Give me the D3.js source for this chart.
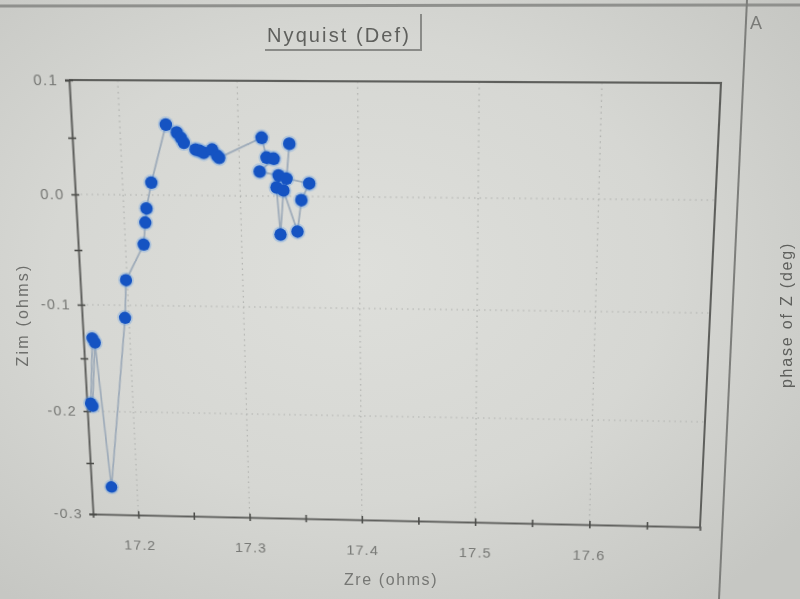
<!DOCTYPE html>
<html><head><meta charset="utf-8">
<script src="https://cdn.jsdelivr.net/npm/d3@7"></script>
<style>
html,body{margin:0;padding:0;width:800px;height:599px;overflow:hidden;}
body{background: radial-gradient(ellipse 70% 70% at 45% 45%, #dedfdb 0%, #d6d7d3 55%, #c6c7c3 100%);}
svg{position:absolute;left:0;top:0;}
#plot{transform-origin:0 0;}
text{font-family:"Liberation Sans", Arial, sans-serif;}
</style></head><body>
<svg id="plot" width="800" height="599"></svg>
<svg id="overlay" width="800" height="599"></svg>
<script>
// ---- data (Nyquist: Zre, Zim in ohms), in measurement order ----
const zre = [17.167, 17.1625, 17.164, 17.169, 17.177, 17.1966, 17.199, 17.2157, 17.218, 17.2195,
             17.2246, 17.239, 17.248, 17.2512, 17.2535, 17.2633, 17.2666, 17.270, 17.2774, 17.2814,
             17.283, 17.3193, 17.323, 17.329, 17.3169, 17.3328, 17.3308, 17.3333, 17.3366, 17.3478,
             17.3516, 17.3585, 17.3394, 17.3424];
const zim = [-0.131, -0.1925, -0.195, -0.135, -0.273, -0.1116, -0.077, -0.0444, -0.0246, -0.012,
             0.011, 0.0619, 0.055, 0.0506, 0.0463, 0.0403, 0.0394, 0.0376, 0.0404, 0.0351,
             0.0333, 0.0511, 0.0338, 0.0329, 0.0215, 0.0182, 0.0077, -0.0341, 0.0051, -0.0313,
             -0.0034, 0.0114, 0.0156, 0.046];
const xDomain = [17.159, 17.696];
const yDomain = [-0.3, 0.1];
const xTicks = [17.2, 17.25, 17.3, 17.35, 17.4, 17.45, 17.5, 17.55, 17.6, 17.65];
const yTicks = [-0.3, -0.25, -0.2, -0.15, -0.1, -0.05, 0.0, 0.05, 0.1];
const xGrid = [17.2, 17.3, 17.4, 17.5, 17.6];
const yGrid = [-0.2, -0.1, 0.0];
const titleText = "Nyquist (Def)";
const xLabel = "Zre (ohms)";
const yLabel = "Zim (ohms)";
const y2Label = "phase of Z (deg)";
const panelLetter = "A";

const points = zre.map((x, i) => ({x, y: zim[i]}));
const isMajor = v => Math.abs(v * 10 - Math.round(v * 10)) < 1e-6;

// ---- logical plot rectangle, then photographed (perspective) onto a quad ----
const L = {x0: 80, y0: 80, x1: 710, y1: 520};
const quad = [[69, 80], [721, 83], [700, 527], [93, 514]]; // TL, TR, BR, BL

function squareToQuad(q) {
  const [[x0,y0],[x1,y1],[x2,y2],[x3,y3]] = q;
  const dx1 = x1 - x2, dx2 = x3 - x2, dx3 = x0 - x1 + x2 - x3;
  const dy1 = y1 - y2, dy2 = y3 - y2, dy3 = y0 - y1 + y2 - y3;
  const den = dx1 * dy2 - dx2 * dy1;
  const g = (dx3 * dy2 - dx2 * dy3) / den;
  const h = (dx1 * dy3 - dx3 * dy1) / den;
  return [[x1 - x0 + g * x1, x3 - x0 + h * x3, x0],
          [y1 - y0 + g * y1, y3 - y0 + h * y3, y0],
          [g, h, 1]];
}
function mul(A, B) {
  return A.map((r, i) => B[0].map((_, j) => r[0]*B[0][j] + r[1]*B[1][j] + r[2]*B[2][j]));
}
const W = L.x1 - L.x0, H = L.y1 - L.y0;
const T = [[1/W, 0, -L.x0/W], [0, 1/H, -L.y0/H], [0, 0, 1]];
const M = mul(squareToQuad(quad), T);
d3.select("#plot").style("transform",
  `matrix3d(${M[0][0]},${M[1][0]},0,${M[2][0]},${M[0][1]},${M[1][1]},0,${M[2][1]},0,0,1,0,${M[0][2]},${M[1][2]},0,${M[2][2]})`);

const x = d3.scaleLinear().domain(xDomain).range([L.x0, L.x1]);
const y = d3.scaleLinear().domain(yDomain).range([L.y1, L.y0]);

const svg = d3.select("#plot");

// grid
svg.append("g").selectAll("line").data(xGrid).join("line")
  .attr("x1", d => x(d)).attr("x2", d => x(d)).attr("y1", L.y0).attr("y2", L.y1)
  .attr("stroke", "#b0b1ae").attr("stroke-width", 1.2).attr("stroke-dasharray", "1.5,4");
svg.append("g").selectAll("line").data(yGrid).join("line")
  .attr("x1", L.x0).attr("x2", L.x1).attr("y1", d => y(d)).attr("y2", d => y(d))
  .attr("stroke", "#b0b1ae").attr("stroke-width", 1.2).attr("stroke-dasharray", "1.5,4");

// frame (top & right)
svg.append("path")
  .attr("d", `M${L.x0},${L.y0}H${L.x1}V${L.y1}`)
  .attr("fill", "none").attr("stroke", "#5e5f5c").attr("stroke-width", 2);

// axes
const xAxis = d3.axisBottom(x).tickValues(xTicks).tickSize(4).tickPadding(23)
  .tickFormat(d => isMajor(d) ? d.toFixed(1) : "");
const yAxis = d3.axisLeft(y).tickValues(yTicks).tickSize(4).tickPadding(7)
  .tickFormat(d => isMajor(d) ? d.toFixed(1) : "");

const gx = svg.append("g").attr("transform", `translate(0,${L.y1})`).call(xAxis);
const gy = svg.append("g").attr("transform", `translate(${L.x0},0)`).call(yAxis);
[gx, gy].forEach(g => {
  g.select(".domain").attr("stroke", "#5e5f5c").attr("stroke-width", 2);
  g.selectAll(".tick line").attr("stroke", "#4a4b48").attr("stroke-width", 1.6);
  g.selectAll(".tick text").attr("fill", "#767774").style("font-size", "15px")
    .style("letter-spacing", "1.2px").attr("font-family", null);
});
gx.selectAll(".tick line").attr("y1", -4);
gy.selectAll(".tick line").attr("x1", 4);

// series line
svg.append("path").datum(points)
  .attr("d", d3.line().x(d => x(d.x)).y(d => y(d.y)))
  .attr("fill", "none").attr("stroke", "#9eabb9").attr("stroke-width", 1.8);

// markers (with a soft halo like the photographed screen)
svg.append("g").selectAll("circle").data(points).join("circle")
  .attr("cx", d => x(d.x)).attr("cy", d => y(d.y)).attr("r", 8)
  .attr("fill", "#5b97e6").attr("opacity", 0.3);
svg.append("g").selectAll("circle").data(points).join("circle")
  .attr("cx", d => x(d.x)).attr("cy", d => y(d.y)).attr("r", 6.2)
  .attr("fill", "#1553c2");

// ---- overlay: title, axis titles, neighbouring panel ----
const ov = d3.select("#overlay");
ov.append("line").attr("x1", 0).attr("x2", 800).attr("y1", 6).attr("y2", 5)
  .attr("stroke", "#8f908d").attr("stroke-width", 3);
ov.append("path").attr("d", "M265,50H421V14").attr("fill", "none")
  .attr("stroke", "#8a8b88").attr("stroke-width", 2);
ov.append("text").attr("x", 267).attr("y", 42).text(titleText)
  .attr("fill", "#5f605d").style("font-size", "20px").style("letter-spacing", "2.1px");

ov.append("text").attr("x", 391).attr("y", 585).attr("text-anchor", "middle").text(xLabel)
  .attr("fill", "#767774").style("font-size", "16px").style("letter-spacing", "1.6px");
ov.append("text").attr("transform", "translate(28,315) rotate(-90)").attr("text-anchor", "middle")
  .text(yLabel).attr("fill", "#6e6f6c").style("font-size", "16px").style("letter-spacing", "2.2px");

ov.append("line").attr("x1", 747).attr("y1", 0).attr("x2", 719).attr("y2", 599)
  .attr("stroke", "#7d7e7b").attr("stroke-width", 2);
ov.append("text").attr("x", 750).attr("y", 29).text(panelLetter)
  .attr("fill", "#7a7b78").style("font-size", "18px");
ov.append("text").attr("transform", "translate(792,315) rotate(-90)").attr("text-anchor", "middle")
  .text(y2Label).attr("fill", "#5f605d").style("font-size", "16px").style("letter-spacing", "1.8px");
</script>
</body></html>
